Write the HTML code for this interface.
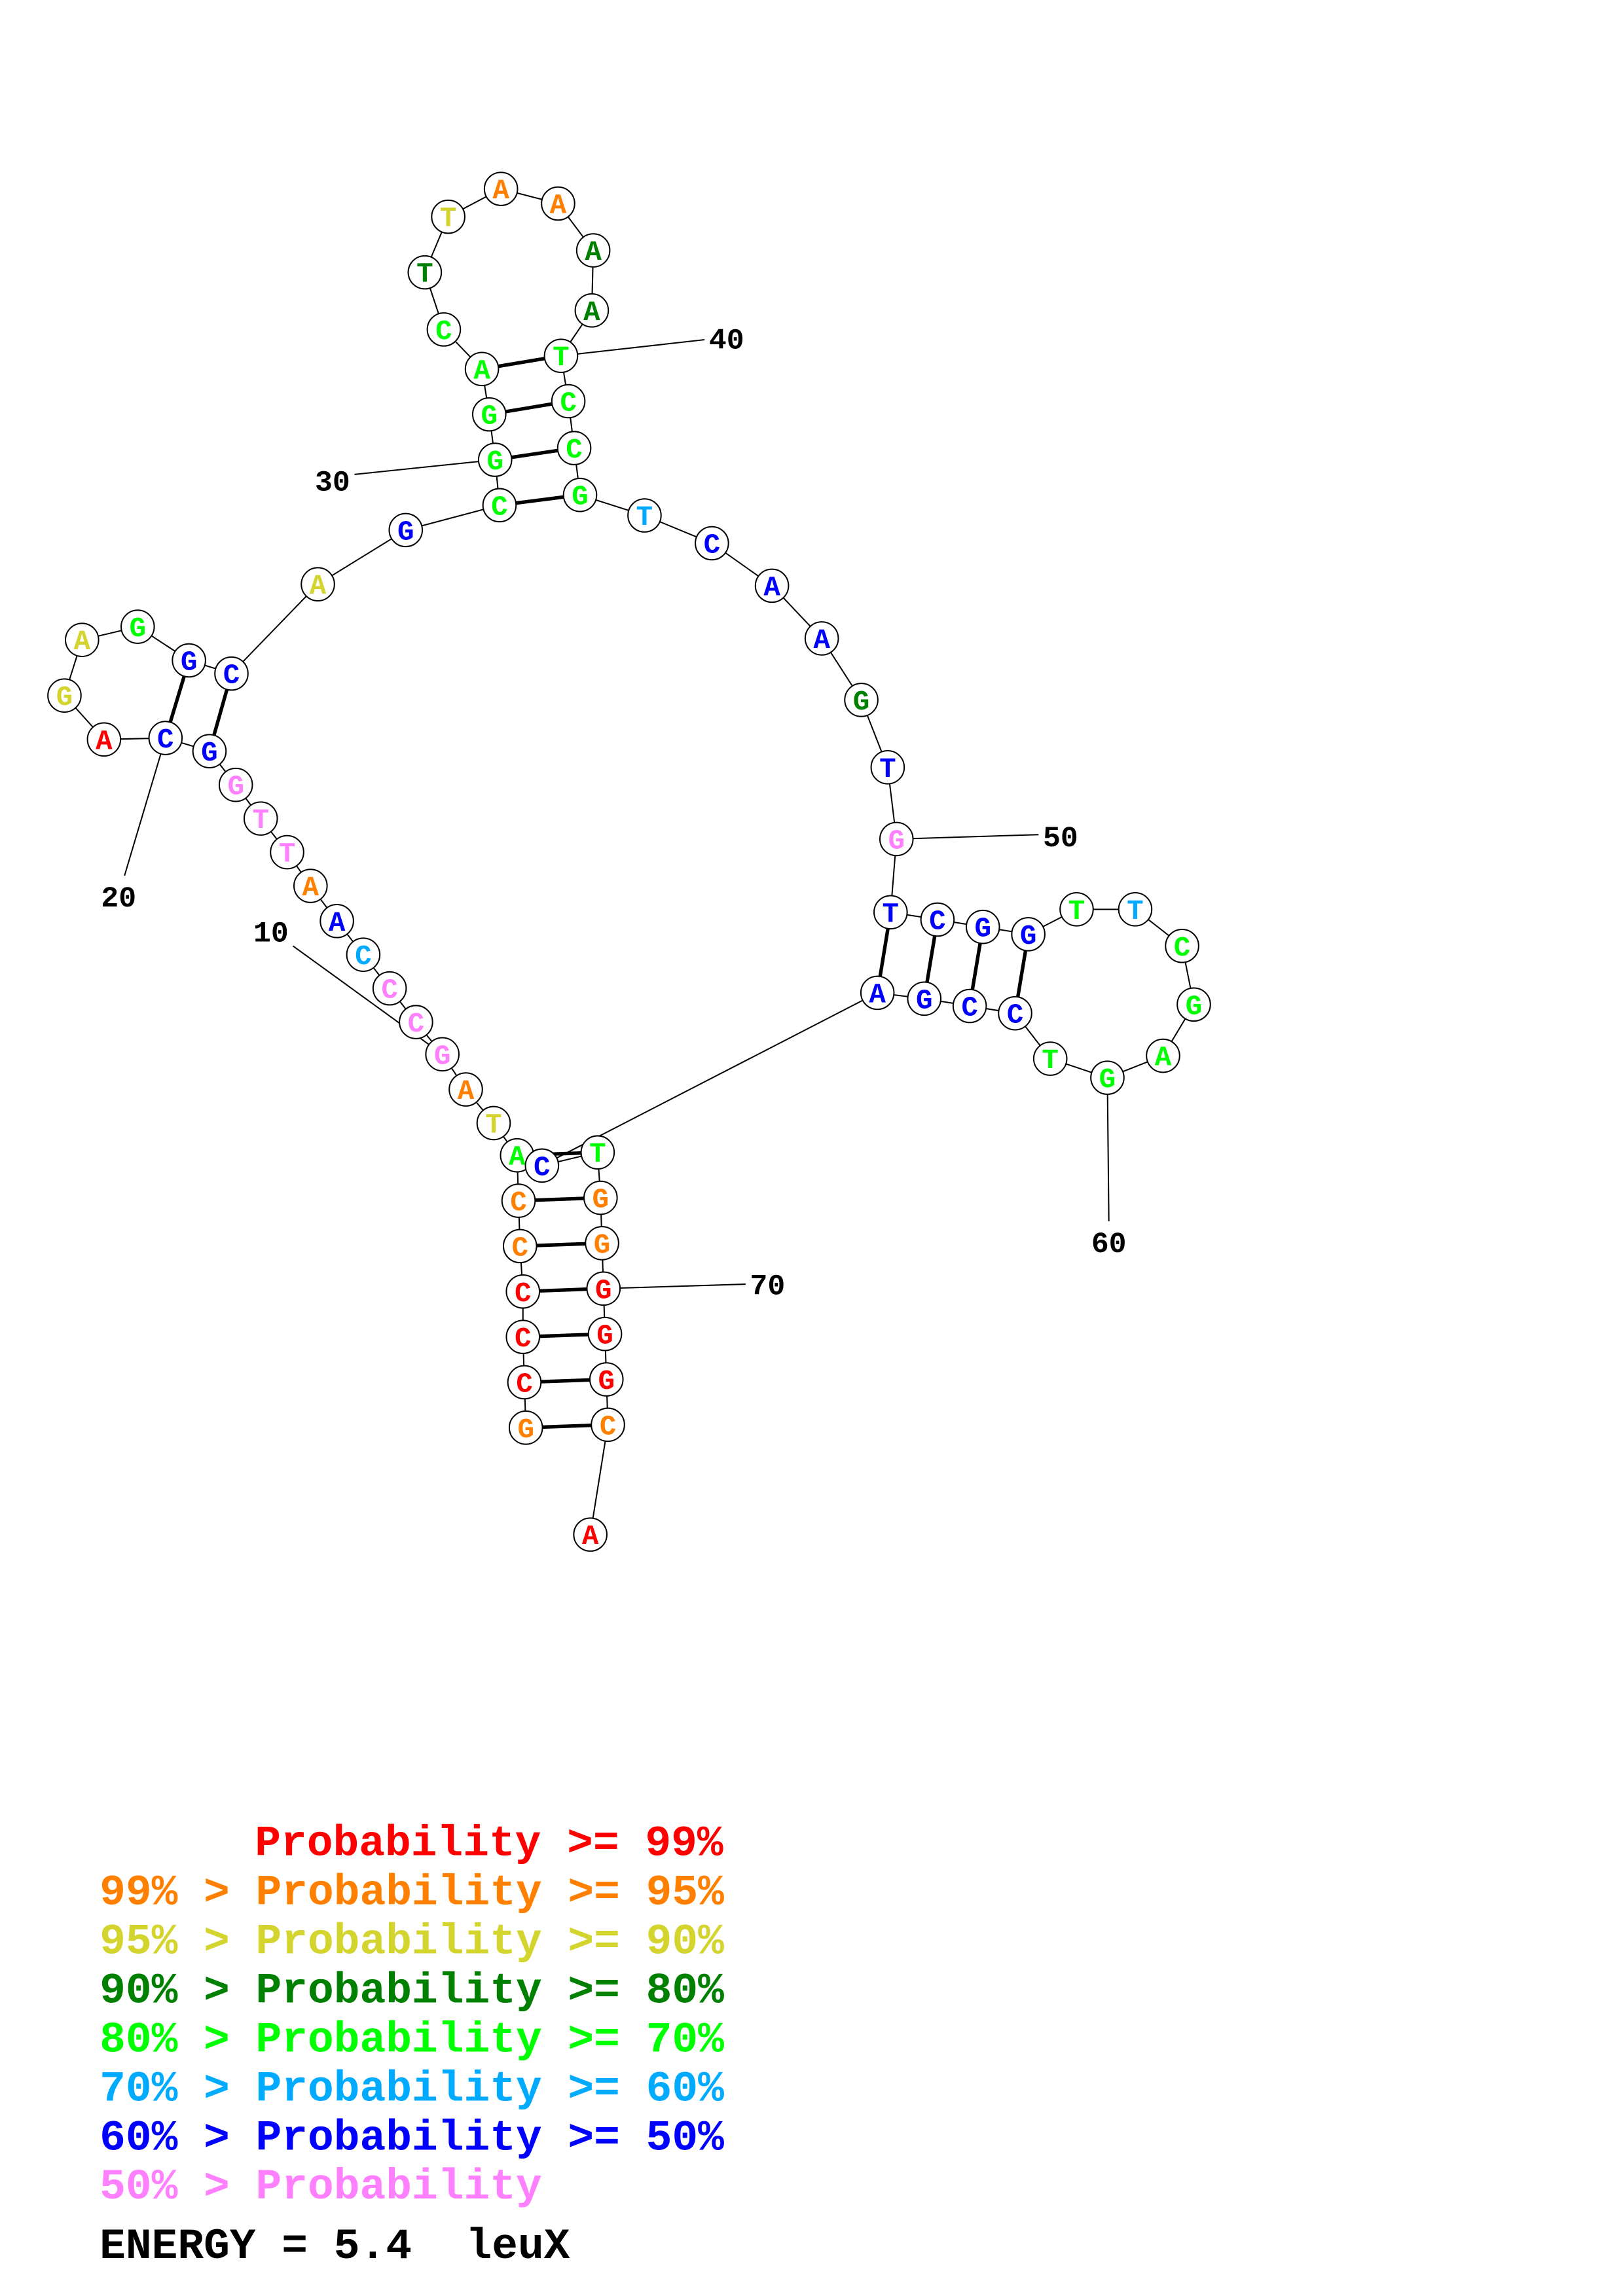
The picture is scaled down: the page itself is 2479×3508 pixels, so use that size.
<!DOCTYPE html>
<html><head><meta charset="utf-8"><style>html,body{margin:0;padding:0;background:#fff}svg{display:block}</style></head>
<body>
<svg xmlns="http://www.w3.org/2000/svg" width="2479" height="3508" viewBox="0 0 1108 1568" preserveAspectRatio="none">
<rect width="1108" height="1568" fill="#fff"/>
<g stroke="#000" stroke-width="0.9" fill="none">
<polyline points="359,975 358,944 357,913 357,882 355,851 354,820 353,789 337,767 318,744 302,720 284,698 266,675 248,652 230,629 212,605 196,582 178,559 161,536 143,513 113,504 71,505 44,475 56,437 94,428 129,451 158,460 217,399 277,362 341,345 338,314 334,283 329,252 303,225 290,186 306,148 342,129 381,139 405,171 404,212 383,243 388,274 392,306 396,338 440,352 486,371 527,400 561,436 588,478 606,524 612,573 608,623 640,628 671,633 702,638 735,621 775,621 807,646 815,686 794,721 756,736 717,723 693,692 662,687 631,682 599,678 370,796 408,787 410,818 411,849 412,880 413,911 414,942 415,973 403,1048"/>
<line x1="200" y1="646" x2="302" y2="720"/>
<line x1="85" y1="598" x2="113" y2="504"/>
<line x1="242" y1="324" x2="338" y2="314"/>
<line x1="481" y1="232" x2="383" y2="243"/>
<line x1="709" y1="570" x2="612" y2="573"/>
<line x1="757" y1="834" x2="756" y2="736"/>
<line x1="509" y1="877" x2="412" y2="880"/>
</g>
<g stroke="#000" stroke-width="2.4">
<line x1="359" y1="975" x2="415" y2="973"/><line x1="358" y1="944" x2="414" y2="942"/><line x1="357" y1="913" x2="413" y2="911"/><line x1="357" y1="882" x2="412" y2="880"/><line x1="355" y1="851" x2="411" y2="849"/><line x1="354" y1="820" x2="410" y2="818"/><line x1="353" y1="789" x2="408" y2="787"/>
<line x1="143" y1="513" x2="158" y2="460"/><line x1="113" y1="504" x2="129" y2="451"/>
<line x1="341" y1="345" x2="396" y2="338"/><line x1="338" y1="314" x2="392" y2="306"/><line x1="334" y1="283" x2="388" y2="274"/><line x1="329" y1="252" x2="383" y2="243"/>
<line x1="608" y1="623" x2="599" y2="678"/><line x1="640" y1="628" x2="631" y2="682"/><line x1="671" y1="633" x2="662" y2="687"/><line x1="702" y1="638" x2="693" y2="692"/>
</g>
<g stroke="#000" stroke-width="0.9" fill="#fff" font-family="'Liberation Mono',monospace" font-weight="bold" font-size="19" text-anchor="middle">
<circle cx="359" cy="975" r="11.3"/><text x="359" y="981.5" fill="#ff8000" stroke="none">G</text>
<circle cx="358" cy="944" r="11.3"/><text x="358" y="950.5" fill="#f00" stroke="none">C</text>
<circle cx="357" cy="913" r="11.3"/><text x="357" y="919.5" fill="#f00" stroke="none">C</text>
<circle cx="357" cy="882" r="11.3"/><text x="357" y="888.5" fill="#f00" stroke="none">C</text>
<circle cx="355" cy="851" r="11.3"/><text x="355" y="857.5" fill="#ff8000" stroke="none">C</text>
<circle cx="354" cy="820" r="11.3"/><text x="354" y="826.5" fill="#ff8000" stroke="none">C</text>
<circle cx="353" cy="789" r="11.3"/><text x="353" y="795.5" fill="#0f0" stroke="none">A</text>
<circle cx="337" cy="767" r="11.3"/><text x="337" y="773.5" fill="#d4d42e" stroke="none">T</text>
<circle cx="318" cy="744" r="11.3"/><text x="318" y="750.5" fill="#ff8000" stroke="none">A</text>
<circle cx="302" cy="720" r="11.3"/><text x="302" y="726.5" fill="#ff80ff" stroke="none">G</text>
<circle cx="284" cy="698" r="11.3"/><text x="284" y="704.5" fill="#ff80ff" stroke="none">C</text>
<circle cx="266" cy="675" r="11.3"/><text x="266" y="681.5" fill="#ff80ff" stroke="none">C</text>
<circle cx="248" cy="652" r="11.3"/><text x="248" y="658.5" fill="#00aaff" stroke="none">C</text>
<circle cx="230" cy="629" r="11.3"/><text x="230" y="635.5" fill="#00f" stroke="none">A</text>
<circle cx="212" cy="605" r="11.3"/><text x="212" y="611.5" fill="#ff8000" stroke="none">A</text>
<circle cx="196" cy="582" r="11.3"/><text x="196" y="588.5" fill="#ff80ff" stroke="none">T</text>
<circle cx="178" cy="559" r="11.3"/><text x="178" y="565.5" fill="#ff80ff" stroke="none">T</text>
<circle cx="161" cy="536" r="11.3"/><text x="161" y="542.5" fill="#ff80ff" stroke="none">G</text>
<circle cx="143" cy="513" r="11.3"/><text x="143" y="519.5" fill="#00f" stroke="none">G</text>
<circle cx="113" cy="504" r="11.3"/><text x="113" y="510.5" fill="#00f" stroke="none">C</text>
<circle cx="71" cy="505" r="11.3"/><text x="71" y="511.5" fill="#f00" stroke="none">A</text>
<circle cx="44" cy="475" r="11.3"/><text x="44" y="481.5" fill="#d4d42e" stroke="none">G</text>
<circle cx="56" cy="437" r="11.3"/><text x="56" y="443.5" fill="#d4d42e" stroke="none">A</text>
<circle cx="94" cy="428" r="11.3"/><text x="94" y="434.5" fill="#0f0" stroke="none">G</text>
<circle cx="129" cy="451" r="11.3"/><text x="129" y="457.5" fill="#00f" stroke="none">G</text>
<circle cx="158" cy="460" r="11.3"/><text x="158" y="466.5" fill="#00f" stroke="none">C</text>
<circle cx="217" cy="399" r="11.3"/><text x="217" y="405.5" fill="#d4d42e" stroke="none">A</text>
<circle cx="277" cy="362" r="11.3"/><text x="277" y="368.5" fill="#00f" stroke="none">G</text>
<circle cx="341" cy="345" r="11.3"/><text x="341" y="351.5" fill="#0f0" stroke="none">C</text>
<circle cx="338" cy="314" r="11.3"/><text x="338" y="320.5" fill="#0f0" stroke="none">G</text>
<circle cx="334" cy="283" r="11.3"/><text x="334" y="289.5" fill="#0f0" stroke="none">G</text>
<circle cx="329" cy="252" r="11.3"/><text x="329" y="258.5" fill="#0f0" stroke="none">A</text>
<circle cx="303" cy="225" r="11.3"/><text x="303" y="231.5" fill="#0f0" stroke="none">C</text>
<circle cx="290" cy="186" r="11.3"/><text x="290" y="192.5" fill="#008000" stroke="none">T</text>
<circle cx="306" cy="148" r="11.3"/><text x="306" y="154.5" fill="#d4d42e" stroke="none">T</text>
<circle cx="342" cy="129" r="11.3"/><text x="342" y="135.5" fill="#ff8000" stroke="none">A</text>
<circle cx="381" cy="139" r="11.3"/><text x="381" y="145.5" fill="#ff8000" stroke="none">A</text>
<circle cx="405" cy="171" r="11.3"/><text x="405" y="177.5" fill="#008000" stroke="none">A</text>
<circle cx="404" cy="212" r="11.3"/><text x="404" y="218.5" fill="#008000" stroke="none">A</text>
<circle cx="383" cy="243" r="11.3"/><text x="383" y="249.5" fill="#0f0" stroke="none">T</text>
<circle cx="388" cy="274" r="11.3"/><text x="388" y="280.5" fill="#0f0" stroke="none">C</text>
<circle cx="392" cy="306" r="11.3"/><text x="392" y="312.5" fill="#0f0" stroke="none">C</text>
<circle cx="396" cy="338" r="11.3"/><text x="396" y="344.5" fill="#0f0" stroke="none">G</text>
<circle cx="440" cy="352" r="11.3"/><text x="440" y="358.5" fill="#00aaff" stroke="none">T</text>
<circle cx="486" cy="371" r="11.3"/><text x="486" y="377.5" fill="#00f" stroke="none">C</text>
<circle cx="527" cy="400" r="11.3"/><text x="527" y="406.5" fill="#00f" stroke="none">A</text>
<circle cx="561" cy="436" r="11.3"/><text x="561" y="442.5" fill="#00f" stroke="none">A</text>
<circle cx="588" cy="478" r="11.3"/><text x="588" y="484.5" fill="#008000" stroke="none">G</text>
<circle cx="606" cy="524" r="11.3"/><text x="606" y="530.5" fill="#00f" stroke="none">T</text>
<circle cx="612" cy="573" r="11.3"/><text x="612" y="579.5" fill="#ff80ff" stroke="none">G</text>
<circle cx="608" cy="623" r="11.3"/><text x="608" y="629.5" fill="#00f" stroke="none">T</text>
<circle cx="640" cy="628" r="11.3"/><text x="640" y="634.5" fill="#00f" stroke="none">C</text>
<circle cx="671" cy="633" r="11.3"/><text x="671" y="639.5" fill="#00f" stroke="none">G</text>
<circle cx="702" cy="638" r="11.3"/><text x="702" y="644.5" fill="#00f" stroke="none">G</text>
<circle cx="735" cy="621" r="11.3"/><text x="735" y="627.5" fill="#0f0" stroke="none">T</text>
<circle cx="775" cy="621" r="11.3"/><text x="775" y="627.5" fill="#00aaff" stroke="none">T</text>
<circle cx="807" cy="646" r="11.3"/><text x="807" y="652.5" fill="#0f0" stroke="none">C</text>
<circle cx="815" cy="686" r="11.3"/><text x="815" y="692.5" fill="#0f0" stroke="none">G</text>
<circle cx="794" cy="721" r="11.3"/><text x="794" y="727.5" fill="#0f0" stroke="none">A</text>
<circle cx="756" cy="736" r="11.3"/><text x="756" y="742.5" fill="#0f0" stroke="none">G</text>
<circle cx="717" cy="723" r="11.3"/><text x="717" y="729.5" fill="#0f0" stroke="none">T</text>
<circle cx="693" cy="692" r="11.3"/><text x="693" y="698.5" fill="#00f" stroke="none">C</text>
<circle cx="662" cy="687" r="11.3"/><text x="662" y="693.5" fill="#00f" stroke="none">C</text>
<circle cx="631" cy="682" r="11.3"/><text x="631" y="688.5" fill="#00f" stroke="none">G</text>
<circle cx="599" cy="678" r="11.3"/><text x="599" y="684.5" fill="#00f" stroke="none">A</text>
<circle cx="408" cy="787" r="11.3"/><text x="408" y="793.5" fill="#0f0" stroke="none">T</text>
<circle cx="370" cy="796" r="11.3"/><text x="370" y="802.5" fill="#00f" stroke="none">C</text>
<circle cx="410" cy="818" r="11.3"/><text x="410" y="824.5" fill="#ff8000" stroke="none">G</text>
<circle cx="411" cy="849" r="11.3"/><text x="411" y="855.5" fill="#ff8000" stroke="none">G</text>
<circle cx="412" cy="880" r="11.3"/><text x="412" y="886.5" fill="#f00" stroke="none">G</text>
<circle cx="413" cy="911" r="11.3"/><text x="413" y="917.5" fill="#f00" stroke="none">G</text>
<circle cx="414" cy="942" r="11.3"/><text x="414" y="948.5" fill="#f00" stroke="none">G</text>
<circle cx="415" cy="973" r="11.3"/><text x="415" y="979.5" fill="#ff8000" stroke="none">C</text>
<circle cx="403" cy="1048" r="11.3"/><text x="403" y="1054.5" fill="#f00" stroke="none">A</text>
</g>
<g font-family="'Liberation Mono',monospace" font-weight="bold" font-size="20" text-anchor="middle" fill="#000">
<text x="185" y="643">10</text>
<text x="81" y="619">20</text>
<text x="227" y="335">30</text>
<text x="496" y="238">40</text>
<text x="724" y="578">50</text>
<text x="757" y="855">60</text>
<text x="524" y="884">70</text>
</g>
<g font-family="'Liberation Mono',monospace" font-weight="bold" font-size="29.6" style="white-space:pre">
<text x="174" y="1267" fill="#f00">Probability &gt;= 99%</text>
<text x="68" y="1300.5" fill="#ff8000">99% &gt; Probability &gt;= 95%</text>
<text x="68" y="1334" fill="#d4d42e">95% &gt; Probability &gt;= 90%</text>
<text x="68" y="1367.5" fill="#008000">90% &gt; Probability &gt;= 80%</text>
<text x="68" y="1401" fill="#0f0">80% &gt; Probability &gt;= 70%</text>
<text x="68" y="1434.5" fill="#00aaff">70% &gt; Probability &gt;= 60%</text>
<text x="68" y="1468" fill="#00f">60% &gt; Probability &gt;= 50%</text>
<text x="68" y="1501.5" fill="#ff80ff">50% &gt; Probability</text>
<text x="68" y="1542" fill="#000">ENERGY = 5.4</text>
<text x="318" y="1542" fill="#000">leuX</text>
</g>
</svg>
</body></html>
